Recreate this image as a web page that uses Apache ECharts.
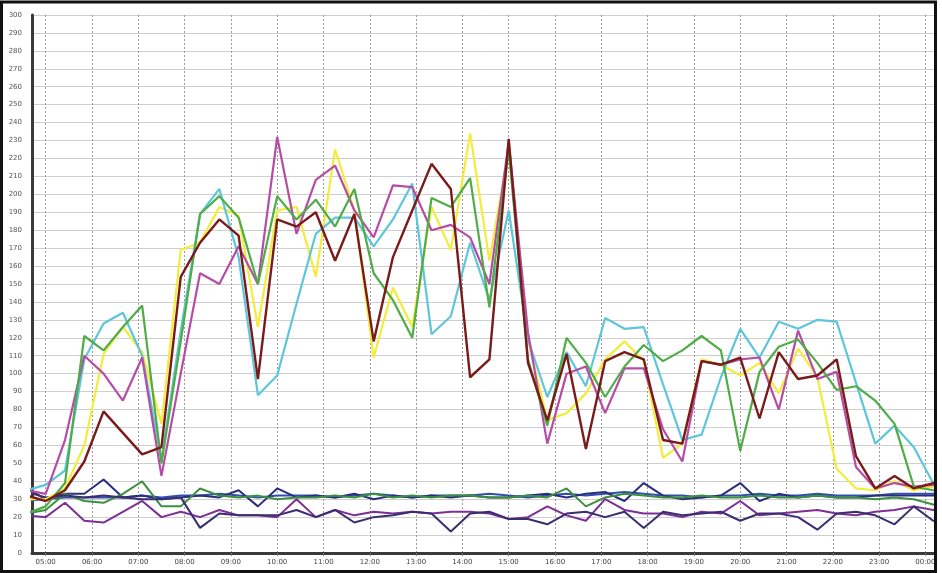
<!DOCTYPE html>
<html>
<head>
<meta charset="utf-8">
<script src="https://cdn.jsdelivr.net/npm/echarts@6/dist/echarts.min.js"></script>
<style>
  html, body { margin: 0; padding: 0; background: #fff; }
  #chart { width: 942px; height: 573px; }
</style>
</head>
<body>
<div id="chart"></div>
<script>
// Sample times (25-minute polling interval)
const times = ['04:35','05:00','05:25','05:50','06:15','06:40','07:05','07:30','07:55','08:20',
  '08:45','09:10','09:35','10:00','10:25','10:50','11:15','11:40','12:05','12:30',
  '12:55','13:20','13:45','14:10','14:35','15:00','15:25','15:50','16:15','16:40',
  '17:05','17:30','17:55','18:20','18:45','19:10','19:35','20:00','20:25','20:50',
  '21:15','21:40','22:05','22:30','22:55','23:20','23:45','00:10','00:35'];

// Hour tick labels along the time axis
const hourTicks = [5,6,7,8,9,10,11,12,13,14,15,16,17,18,19,20,21,22,23,24];

// Busy-hour traffic series
const yellowVals  = [30,30,36,60,111,126,112,72,169,173,193,188,126,191,193,154,225,191,109,148,126,193,169,234,163,225,119,74,78,89,108,118,107,53,61,108,105,99,106,89,114,98,47,36,35,40,35,37,37];
const cyanVals    = [35,38,46,108,128,134,110,52,124,189,203,165,88,99,139,178,187,187,171,186,206,122,132,173,141,191,119,87,112,93,131,125,126,94,63,66,98,125,109,129,125,130,129,95,61,71,59,39,30];
const greenVals   = [22,26,39,121,113,126,138,50,118,189,199,187,150,199,186,197,182,203,156,141,120,198,193,209,137,225,108,71,120,106,87,104,116,107,113,121,113,57,101,115,119,106,91,93,85,72,37,35,33];
const magentaVals = [35,33,63,110,100,85,109,43,100,156,150,171,150,232,178,208,216,191,176,205,204,180,183,176,150,229,123,61,100,104,78,103,103,69,51,107,105,108,109,80,124,97,101,48,36,39,37,38,38];
const maroonVals  = [32,29,35,51,79,67,55,59,154,173,186,177,97,186,182,190,163,189,118,165,191,217,203,98,108,231,106,74,111,58,107,112,108,63,61,107,105,109,75,112,97,99,108,54,36,43,36,39,42];

// Low-load series
const blueVals    = [29,30,31,31,31,31,32,31,32,32,33,32,31,32,32,32,31,32,33,32,31,32,32,32,33,32,31,32,33,32,33,34,33,32,32,31,32,32,33,32,32,33,32,32,32,33,33,33,33];
const navyVals    = [36,30,33,33,41,31,32,30,31,32,31,35,26,36,31,32,31,33,30,32,31,32,31,32,31,31,32,33,31,33,34,29,39,32,30,31,32,39,29,33,31,32,31,31,32,32,32,32,32];
const olivVals    = [22,24,33,29,28,33,40,26,26,36,32,31,32,30,31,31,32,31,33,31,32,31,32,32,31,31,32,31,36,26,31,33,32,31,31,32,31,31,32,31,31,32,31,31,30,31,30,27,26];
const purpleVals  = [21,20,28,18,17,23,29,20,23,20,24,21,21,20,30,20,24,21,23,22,23,22,23,23,22,19,20,26,21,18,30,24,22,22,20,23,22,29,21,22,23,24,22,21,23,24,26,24,24];
const indigoVals  = [34,31,32,31,32,31,30,30,31,14,22,21,21,21,24,20,24,17,20,21,23,22,12,22,23,19,19,16,22,23,20,23,14,23,21,22,23,18,22,22,20,13,22,23,21,16,26,18,20];

const seriesDefs = [
  { name: 'blue',    values: blueVals,    color: '#2f50b2', width: 2 },
  { name: 'navy',    values: navyVals,    color: '#2b2e7c', width: 2 },
  { name: 'green2',  values: olivVals,    color: '#3c8f3c', width: 2 },
  { name: 'purple',  values: purpleVals,  color: '#7d2f96', width: 2 },
  { name: 'indigo',  values: indigoVals,  color: '#3a2d70', width: 2 },
  { name: 'yellow',  values: yellowVals,  color: '#f3ec3c', width: 2.2 },
  { name: 'cyan',    values: cyanVals,    color: '#5ec6db', width: 2.2 },
  { name: 'magenta', values: magentaVals, color: '#b64ca6', width: 2.2 },
  { name: 'green',   values: greenVals,   color: '#4fac47', width: 2.2 },
  { name: 'maroon',  values: maroonVals,  color: '#7a1b1b', width: 2.4 }
];

function toHours(t) {
  const [h, m] = t.split(':').map(Number);
  const v = h + m / 60;
  return v < 4 ? v + 24 : v;
}
const xs = times.map(toHours);

function pad(n) { return (n < 10 ? '0' : '') + n; }

const chart = echarts.init(document.getElementById('chart'), null, { renderer: 'canvas' });

chart.setOption({
  animation: false,
  backgroundColor: '#ffffff',
  grid: { left: 32, right: 7, top: 15, bottom: 20, containLabel: false },
  xAxis: {
    type: 'value',
    min: 4.704,
    max: 24.207,
    axisLine: { show: true, onZero: false, lineStyle: { color: '#3a3a3a', width: 3 } },
    axisTick: { show: true, customValues: hourTicks, length: 3, lineStyle: { color: '#777' } },
    axisLabel: {
      customValues: hourTicks,
      formatter: v => pad(Math.round(v) % 24) + ':00',
      fontSize: 7, color: '#444', margin: 6, fontFamily: 'DejaVu Sans'
    },
    splitLine: { show: true, lineStyle: { color: '#9a9a9a', type: [2, 2], width: 1 } }
  },
  yAxis: {
    type: 'value',
    min: 0, max: 300, interval: 10,
    axisLine: { show: true, lineStyle: { color: '#3a3a3a', width: 3 } },
    axisTick: { show: false },
    axisLabel: { fontSize: 7, color: '#555', margin: 10, fontFamily: 'DejaVu Sans' },
    splitLine: { show: true, lineStyle: { color: '#cfcfcf', width: 1 } }
  },
  graphic: [
    { type: 'rect', shape: { x: 937, y: 0, width: 5, height: 573 },
      style: { fill: '#ffffff' }, z: 99 },
    { type: 'rect', shape: { x: 1.5, y: 2, width: 934, height: 569.5 },
      style: { fill: 'none', stroke: '#111', lineWidth: 3 }, z: 100 }
  ],
  series: seriesDefs.map(s => ({
    name: s.name,
    type: 'line',
    showSymbol: false,
    symbol: 'none',
    clip: true,
    data: s.values.map((v, i) => [xs[i], v]),
    lineStyle: { color: s.color, width: s.width },
    itemStyle: { color: s.color }
  }))
});
</script>
</body>
</html>
